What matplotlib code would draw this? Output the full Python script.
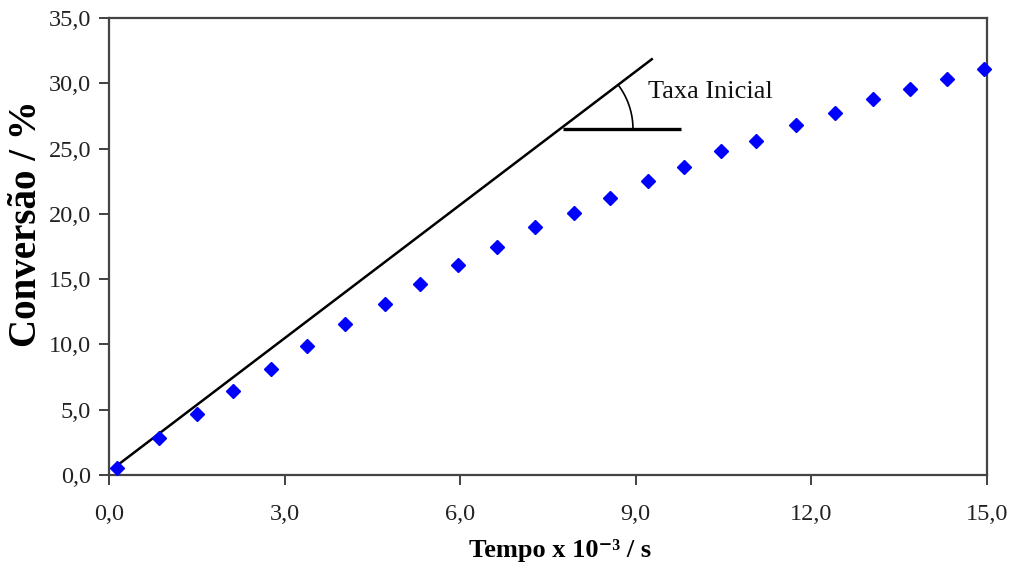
import numpy as np
import matplotlib
matplotlib.use("Agg")
import matplotlib.pyplot as plt
from matplotlib.ticker import FuncFormatter, MultipleLocator

# Conversion measured over time
tempo = [0.14, 0.86, 1.51, 2.12, 2.77, 3.39, 4.04, 4.71, 5.31, 5.96, 6.63, 7.28,
         7.95, 8.56, 9.21, 9.83, 10.46, 11.06, 11.73, 12.40, 13.05, 13.68, 14.31, 14.95]
conversao = [0.5, 2.8, 4.7, 6.4, 8.1, 9.9, 11.6, 13.1, 14.6, 16.1, 17.5, 19.0,
             20.1, 21.2, 22.5, 23.6, 24.8, 25.6, 26.8, 27.7, 28.8, 29.6, 30.3, 31.1]

# Initial-rate tangent and its horizontal reference
tangente_x = [0.10, 9.29]
tangente_y = [0.6, 31.9]
horizontal_x = [7.75, 9.78]
horizontal_y = [26.5, 26.5]
rotulo_taxa = "Taxa Inicial"

plt.rcParams['font.family'] = ['Liberation Serif', 'DejaVu Serif']

fig = plt.figure(figsize=(10.12, 5.68), dpi=100)
ax = fig.add_axes([0.1077, 0.1637, 0.9753 - 0.1077, 0.9683 - 0.1637])

ax.plot(tangente_x, tangente_y, color='black', lw=1.8, solid_capstyle='butt')
ax.plot(horizontal_x, horizontal_y, color='black', lw=2.4, solid_capstyle='butt')
ax.plot(tempo, conversao, linestyle='none', marker='D', markersize=7,
        color='#0000FF', markeredgecolor='#0000FF', clip_on=False, zorder=5)

ax.set_xlim(0, 15)
ax.set_ylim(0, 35)

# Angle arc between the tangent and the horizontal, drawn in screen proportions
fig.canvas.draw()
to_disp = ax.transData.transform
x0 = tangente_x[0] + (horizontal_y[0] - tangente_y[0]) * (tangente_x[1] - tangente_x[0]) / (tangente_y[1] - tangente_y[0])
p0 = to_disp((x0, horizontal_y[0]))
p1 = to_disp((tangente_x[1], tangente_y[1]))
ang = np.arctan2(p1[1] - p0[1], p1[0] - p0[0])
r = 73
t = np.linspace(0, ang, 40)
arc_disp = np.column_stack([p0[0] + r * np.cos(t), p0[1] + r * np.sin(t)])
arc_data = ax.transData.inverted().transform(arc_disp)
ax.plot(arc_data[:, 0], arc_data[:, 1], color='black', lw=1.2)

ax.text(9.2, 29.3, rotulo_taxa, fontsize=19, ha='left', va='center', color='#111111')

ax.xaxis.set_major_locator(MultipleLocator(3))
ax.yaxis.set_major_locator(MultipleLocator(5))
fmt = FuncFormatter(lambda v, p: f"{v:.1f}".replace('.', ','))
ax.xaxis.set_major_formatter(fmt)
ax.yaxis.set_major_formatter(fmt)
ax.tick_params(axis='both', direction='out', length=7, width=1.3, colors='#333333',
               labelcolor='#222222', labelsize=17.5, pad=6)
ax.tick_params(axis='x', pad=14)
for s in ax.spines.values():
    s.set_color('#444444')
    s.set_linewidth(1.6)

ax.set_xlabel("Tempo x 10\u207b\u00b3 / s", fontsize=19, fontweight='bold')
ax.set_ylabel("Conversão / %", fontsize=28, fontweight='bold')
ax.xaxis.set_label_coords(0.5137, -0.139)
ax.yaxis.set_label_coords(-0.073, 0.551)

fig.savefig("out.png", dpi=100, facecolor='white')
